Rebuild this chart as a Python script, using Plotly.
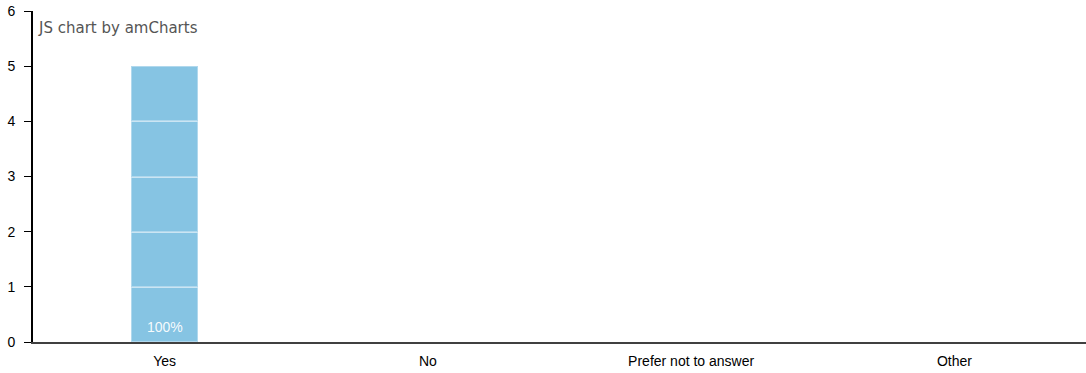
import plotly.graph_objects as go

categories = ["Yes", "No", "Prefer not to answer", "Other"]
# individual responses stacked in the "Yes" column (one per respondent)
response_segments = [
    [1, 0, 0, 0],
    [1, 0, 0, 0],
    [1, 0, 0, 0],
    [1, 0, 0, 0],
    [1, 0, 0, 0],
]
percent_labels = ["100%", "", "", ""]
y_ticks = [0, 1, 2, 3, 4, 5, 6]

fig = go.Figure()
for i, seg in enumerate(response_segments):
    fig.add_trace(go.Bar(
        x=categories, y=seg,
        marker=dict(color="#86c4e3", line=dict(color="rgba(255,255,255,0.35)", width=2)),
        width=0.257,
        hoverinfo="skip",
        showlegend=False,
    ))

fig.add_annotation(
    x=categories[0], y=0, xref="x", yref="y", text=percent_labels[0],
    showarrow=False, yanchor="bottom", yshift=5,
    font=dict(color="rgba(255,255,255,0.95)", size=14, family="Arial"),
)

fig.update_layout(
    barmode="stack",
    width=1086, height=373,
    margin=dict(l=33, r=0, t=11, b=31, autoexpand=False),
    paper_bgcolor="white", plot_bgcolor="white",
    font=dict(family="Arial", size=14, color="black"),
)
fig.update_xaxes(
    showgrid=False, showline=True, linecolor="#404040", linewidth=2,
    ticks="", tickfont=dict(size=14, color="black"), ticklabelstandoff=5,
    zeroline=False, automargin=False,
)
fig.update_yaxes(
    range=[0, 6], tickvals=y_ticks, showgrid=False,
    showline=True, linecolor="black", linewidth=2,
    ticks="outside", ticklen=7, tickcolor="black", tickwidth=1,
    tickfont=dict(size=14, color="black"), ticklabelstandoff=6,
    zeroline=False, automargin=False,
)
fig.add_annotation(
    text="JS chart by amCharts", xref="paper", yref="paper",
    x=0.003, y=0.95, xanchor="left", yanchor="middle", showarrow=False,
    font=dict(family="DejaVu Sans", size=15, color="#555555"),
)
fig.write_html(
    "out.html",
    config={"displayModeBar": False},
    post_script="document.body.style.margin='0';document.body.style.overflow='hidden';",
)
